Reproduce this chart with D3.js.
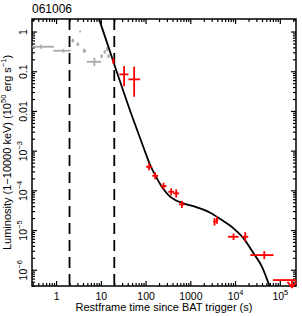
<!DOCTYPE html>
<html><head><meta charset="utf-8">
<script src="https://cdn.jsdelivr.net/npm/d3@7"></script>
<style>
body{margin:0;background:#fff;}
text{font-family:"Liberation Sans",Arial,sans-serif;}
</style></head>
<body><svg id="c" width="302" height="316"></svg>
<script>
// ---- data ----
const title = "061006";
// [t, tLo, tHi, L, LLo, LHi]
const grayPoints = [
  [0.46, 0.25, 0.90, 0.414, 0.37, 0.465],
  [1.46, 0.87, 2.13, 0.328, 0.295, 0.365],
  [3.44, 3.38, 3.50, 1.0, 0.96, 1.04],
  [2.36, 2.2, 2.53, 0.59, 0.53, 0.66],
  [3.06, 2.85, 3.28, 0.476, 0.43, 0.53],
  [4.30, 3.95, 4.7, 0.33, 0.29, 0.37],
  [7.19, 4.86, 10.2, 0.173, 0.135, 0.219],
  [10.4, 9.9, 10.9, 0.241, 0.215, 0.27],
  [12.2, 11.6, 12.8, 0.305, 0.275, 0.34],
  [13.8, 13.2, 14.4, 0.362, 0.325, 0.40],
  [14.9, 14.2, 15.6, 0.241, 0.215, 0.27]
];
const redPoints = [
  [19.1, 18.2, 20.0, 0.181, 0.153, 0.214],
  [33.2, 26, 41.4, 0.0835, 0.042, 0.135],
  [55.6, 41.4, 75.7, 0.0625, 0.0228, 0.13],
  [120, 103, 140, 3.93e-4, 3.2e-4, 4.8e-4],
  [164, 141, 191, 2.33e-4, 1.9e-4, 2.85e-4],
  [252, 216, 293, 1.28e-4, 1.05e-4, 1.56e-4],
  [374, 322, 435, 9.2e-5, 7.5e-5, 1.13e-4],
  [484, 416, 563, 8.4e-5, 6.6e-5, 1.06e-4],
  [649, 558, 755, 4.44e-5, 3.6e-5, 5.5e-5],
  [3478, 3250, 3720, 1.62e-5, 1.3e-5, 2.0e-5],
  [3934, 3680, 4200, 1.79e-5, 1.45e-5, 2.2e-5],
  [9250, 6930, 12000, 6.78e-6, 5.6e-6, 8.2e-6],
  [1.69e4, 1.45e4, 1.97e4, 6.78e-6, 5.2e-6, 8.9e-6],
  [4.5e4, 2.19e4, 7.26e4, 2.34e-6, 1.85e-6, 2.95e-6]
];
// upper limit: [t, tLo, tHi, L, LArrowTip]
const upperLimits = [[1.87e5, 7.05e4, 4e5, 5.5e-7, 3.6e-7]];
// model curve: [t, L]
const modelCurve = [
  [8, 3.2],[9.16, 2.06],[19.1, 0.173],[53.6, 5.9e-3],[94.5, 1.04e-3],
  [127, 4.34e-4],[164, 2.43e-4],[232, 1.23e-4],[325, 7.6e-5],[459, 5.7e-5],
  [704, 4.71e-5],[1406, 3.73e-5],[2787, 2.73e-5],[4667, 1.89e-5],[9250, 1.10e-5],
  [1.55e4, 6.18e-6],[2.59e4, 2.59e-6],[4.0e4, 1.19e-6],[5.6e4, 4.54e-7],[6.5e4, 2.8e-7]
];
const dashedTimes = [2, 20];
const xMajorTicks = [1, 10, 100, 1000, 1e4, 1e5];
const xMajorLabels = [["1"],["10"],["100"],["1000"],["10","4"],["10","5"]];
const yMajorTicks = [1, 0.1, 0.01, 1e-3, 1e-4, 1e-5, 1e-6];
const yMajorLabels = [["1"],["0.1"],["0.01"],["10","\u22123"],["10","\u22124"],["10","\u22125"],["10","\u22126"]];
const xLabel = "Restframe time since BAT trigger (s)";

// ---- layout ----
const L = 32, R = 296, T = 19, B = 286;
const svg = d3.select("#c");
const x = d3.scaleLog().domain([0.29, 2.3e5]).range([L, R]);
const y = d3.scaleLog().domain([3.9e-7, 2.07]).range([B, T]);

function minors(lo, hi){
  const out=[];
  for(let e=Math.floor(Math.log10(lo))-1;e<=Math.ceil(Math.log10(hi));e++)
    for(let m=2;m<10;m++){const v=m*Math.pow(10,e); if(v>=lo&&v<=hi) out.push(v);}
  return out;
}
const xMin = minors(0.29, 2.3e5), yMin = minors(3.9e-7, 2.07);

svg.append("defs").append("clipPath").attr("id","clip")
  .append("rect").attr("x",L).attr("y",T).attr("width",R-L).attr("height",B-T);

function axisG(axis, tx, ty){ return svg.append("g").attr("transform",`translate(${tx},${ty})`).call(axis); }
const MJ=5, MN=3;
const style = g => { g.select(".domain").remove(); g.selectAll("line").attr("stroke","#000").attr("stroke-width",1.2); };
axisG(d3.axisBottom(x).tickValues(xMin).tickSize(-MN).tickFormat(""),0,B).call(style);
axisG(d3.axisTop(x).tickValues(xMin).tickSize(-MN).tickFormat(""),0,T).call(style);
axisG(d3.axisTop(x).tickValues(xMajorTicks).tickSize(-MJ).tickFormat(""),0,T).call(style);
axisG(d3.axisLeft(y).tickValues(yMin).tickSize(-MN).tickFormat(""),L,0).call(style);
axisG(d3.axisRight(y).tickValues(yMin).tickSize(-MN).tickFormat(""),R,0).call(style);
axisG(d3.axisRight(y).tickValues(yMajorTicks).tickSize(-MJ).tickFormat(""),R,0).call(style);

const xa = axisG(d3.axisBottom(x).tickValues(xMajorTicks).tickSize(-MJ).tickFormat(""),0,B).call(style);
xa.selectAll(".tick text").each(function(d,i){
  const t=d3.select(this).attr("y",14).attr("dy",null).attr("font-size",10.5).attr("fill","#000");
  const lab=xMajorLabels[i];
  t.append("tspan").text(lab[0]);
  if(lab[1]) t.append("tspan").attr("font-size",7.5).attr("dy",-5).text(lab[1]);
});
const ya = axisG(d3.axisLeft(y).tickValues(yMajorTicks).tickSize(-MJ).tickFormat(""),L,0).call(style);
ya.selectAll(".tick text").each(function(d,i){
  const t=d3.select(this).attr("x",0).attr("y",-5).attr("dy",null)
    .attr("transform","rotate(-90)").attr("text-anchor","middle").attr("font-size",10.5).attr("fill","#000");
  const lab=yMajorLabels[i];
  t.append("tspan").text(lab[0]);
  if(lab[1]) t.append("tspan").attr("font-size",7.5).attr("dy",-5).text(lab[1]);
});

svg.append("rect").attr("x",L).attr("y",T).attr("width",R-L).attr("height",B-T)
  .attr("fill","none").attr("stroke","#000").attr("stroke-width",1.5);

const plot = svg.append("g").attr("clip-path","url(#clip)");

plot.selectAll(".dash").data(dashedTimes).join("line")
  .attr("x1",d=>x(d)).attr("x2",d=>x(d)).attr("y1",T).attr("y2",B)
  .attr("stroke","#000").attr("stroke-width",1.8).attr("stroke-dasharray","11,6");

function bars(data, color){
  const g = plot.append("g").attr("stroke",color).attr("stroke-width",1.8);
  g.selectAll(".h").data(data).join("line")
    .attr("x1",d=>x(d[1])).attr("x2",d=>x(d[2])).attr("y1",d=>y(d[3])).attr("y2",d=>y(d[3]));
  g.selectAll(".v").data(data).join("line")
    .attr("x1",d=>x(d[0])).attr("x2",d=>x(d[0])).attr("y1",d=>y(d[4])).attr("y2",d=>y(d[5]));
}
bars(grayPoints, "#aaaaaa");

plot.append("path").datum(modelCurve)
  .attr("d", d3.line().x(d=>x(d[0])).y(d=>y(d[1])).curve(d3.curveMonotoneX))
  .attr("fill","none").attr("stroke","#000").attr("stroke-width",1.8);

bars(redPoints, "#ff0000");

const ul = svg.append("g").attr("stroke","#ff0000").attr("stroke-width",1.8).attr("fill","none");
upperLimits.forEach(d=>{
  ul.append("line").attr("x1",x(d[1])).attr("x2",Math.min(x(d[2]),R)).attr("y1",y(d[3])).attr("y2",y(d[3]));
  ul.append("line").attr("x1",x(d[0])).attr("x2",x(d[0])).attr("y1",y(d[3])).attr("y2",y(d[4]));
  const tx=x(d[0]), ty=y(d[4]);
  ul.append("path").attr("d",`M${tx-4.5},${ty-5.5}L${tx},${ty}L${tx+4.5},${ty-5.5}`);
});

svg.append("text").attr("x",L).attr("y",13).attr("font-size",12).text(title);
svg.append("text").attr("x",(L+R)/2).attr("y",311).attr("text-anchor","middle").attr("font-size",11).text(xLabel);
const yl = svg.append("text").attr("transform",`translate(11,${(T+B)/2}) rotate(-90)`)
  .attr("text-anchor","middle").attr("font-size",11);
yl.append("tspan").text("Luminosity (1\u221210000 keV) (10");
yl.append("tspan").attr("font-size",7.5).attr("dy",-5).text("50");
yl.append("tspan").attr("dy",5).text(" erg s");
yl.append("tspan").attr("font-size",7.5).attr("dy",-5).text("\u22121");
yl.append("tspan").attr("dy",5).text(")");
</script></body></html>
